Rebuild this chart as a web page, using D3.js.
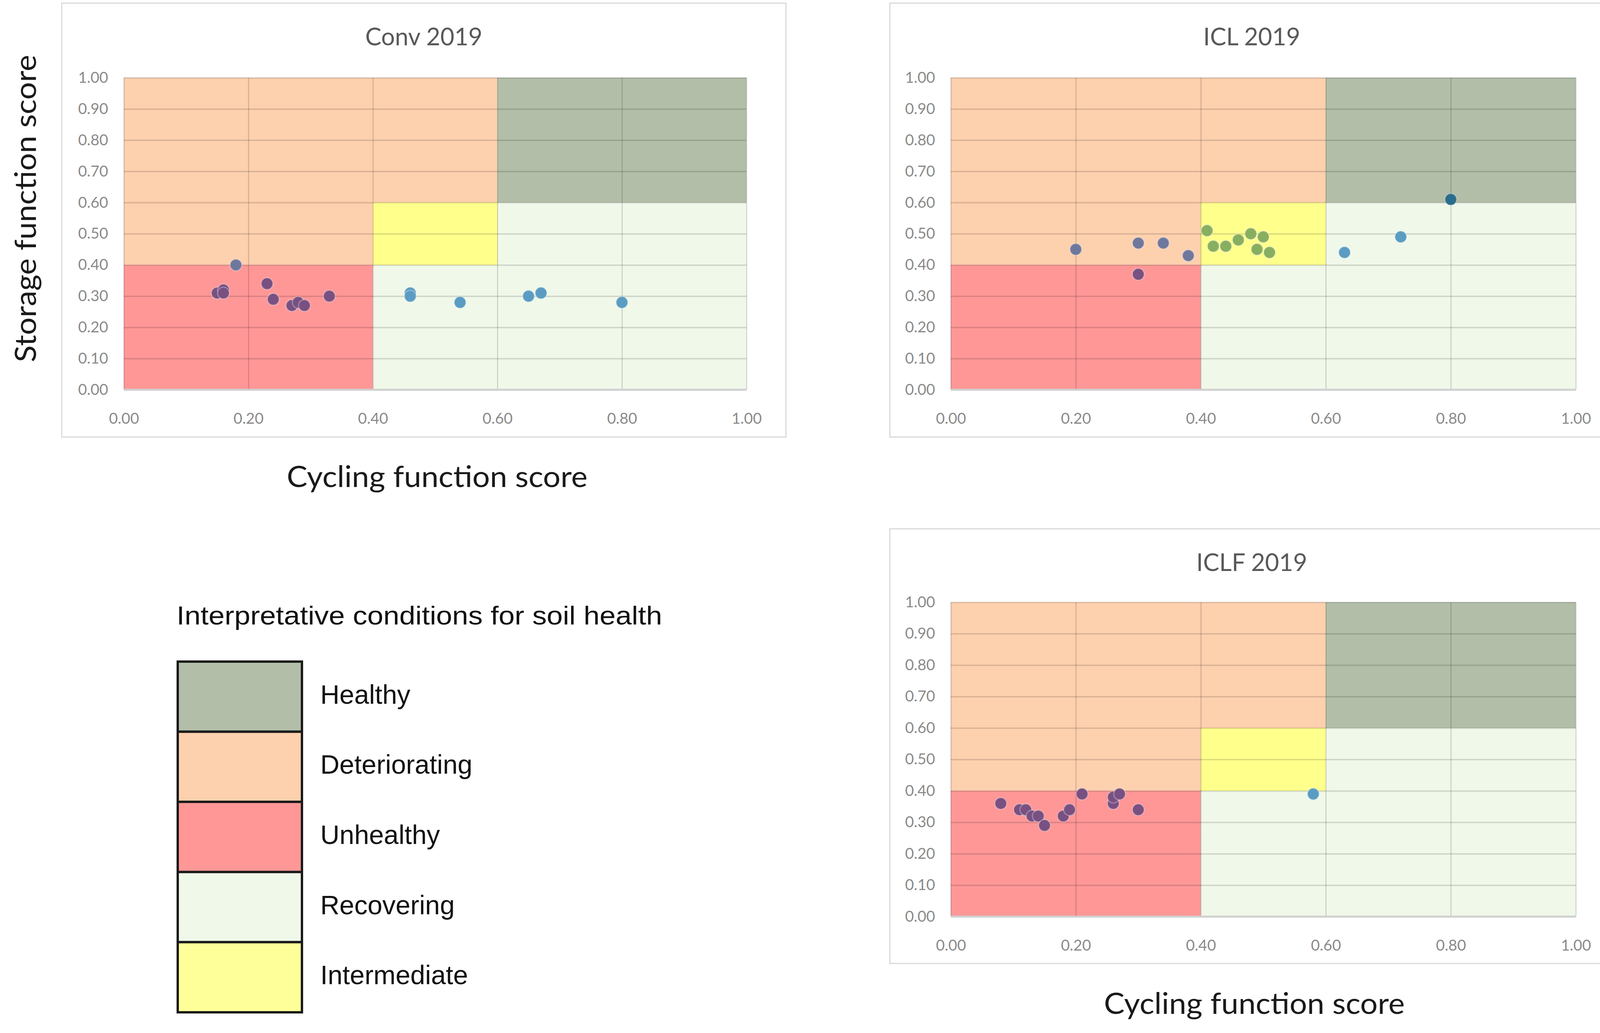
<!DOCTYPE html>
<html>
<head>
<meta charset="utf-8">
<script src="https://cdn.jsdelivr.net/npm/d3@7"></script>
<style>
  body { margin: 0; background: #fff; }
  svg { display: block; }
</style>
</head>
<body>
<svg id="chart" width="4139" height="2645"></svg>
<script>
// ---- data ----
const panelTitles = ["Conv 2019", "ICL 2019", "ICLF 2019"];

// [cycling score, storage score, condition class]
const convPoints = [
  [0.15, 0.31, "Unhealthy"], [0.16, 0.32, "Unhealthy"], [0.16, 0.31, "Unhealthy"],
  [0.23, 0.34, "Unhealthy"], [0.24, 0.29, "Unhealthy"], [0.27, 0.27, "Unhealthy"],
  [0.28, 0.28, "Unhealthy"], [0.29, 0.27, "Unhealthy"], [0.33, 0.30, "Unhealthy"],
  [0.18, 0.40, "Deteriorating"],
  [0.46, 0.31, "Recovering"], [0.46, 0.30, "Recovering"], [0.54, 0.28, "Recovering"],
  [0.65, 0.30, "Recovering"], [0.67, 0.31, "Recovering"], [0.80, 0.28, "Recovering"]
];
const iclPoints = [
  [0.20, 0.45, "Deteriorating"], [0.30, 0.47, "Deteriorating"], [0.34, 0.47, "Deteriorating"],
  [0.38, 0.43, "Deteriorating"],
  [0.30, 0.37, "Unhealthy"],
  [0.41, 0.51, "Intermediate"], [0.42, 0.46, "Intermediate"], [0.44, 0.46, "Intermediate"],
  [0.46, 0.48, "Intermediate"], [0.48, 0.50, "Intermediate"], [0.50, 0.49, "Intermediate"],
  [0.49, 0.45, "Intermediate"], [0.51, 0.44, "Intermediate"],
  [0.63, 0.44, "Recovering"], [0.72, 0.49, "Recovering"],
  [0.80, 0.61, "Healthy"]
];
const iclfPoints = [
  [0.08, 0.36, "Unhealthy"], [0.11, 0.34, "Unhealthy"], [0.12, 0.34, "Unhealthy"],
  [0.13, 0.32, "Unhealthy"], [0.14, 0.32, "Unhealthy"], [0.15, 0.29, "Unhealthy"],
  [0.18, 0.32, "Unhealthy"], [0.19, 0.34, "Unhealthy"], [0.21, 0.39, "Unhealthy"],
  [0.26, 0.36, "Unhealthy"], [0.26, 0.38, "Unhealthy"], [0.27, 0.39, "Unhealthy"],
  [0.30, 0.34, "Unhealthy"],
  [0.58, 0.39, "Recovering"]
];

// zone limits: [name, x0, x1, y0, y1] in draw order
const zones = [
  ["Recovering", 0.4, 1.0, 0.0, 0.6],
  ["Deteriorating", 0.0, 0.6, 0.4, 1.0],
  ["Intermediate", 0.4, 0.6, 0.4, 0.6],
  ["Unhealthy", 0.0, 0.4, 0.0, 0.4],
  ["Healthy", 0.6, 1.0, 0.6, 1.0]
];
const legendItems = ["Healthy", "Deteriorating", "Unhealthy", "Recovering", "Intermediate"];

const xTicks = [0, 0.2, 0.4, 0.6, 0.8, 1.0];
const yTicks = [0, 0.1, 0.2, 0.3, 0.4, 0.5, 0.6, 0.7, 0.8, 0.9, 1.0];

// ---- styles ----
const zoneFill = {
  Healthy: "#b2bea8", Deteriorating: "#fdd0ae", Unhealthy: "#ff9797",
  Recovering: "#f0f8ea", Intermediate: "#ffff8c"
};
const legendFill = Object.assign({}, zoneFill, {Intermediate: "#ffff99"});
const dotFill = {
  Unhealthy: "#785081", Deteriorating: "#6f789c", Intermediate: "#88ae60",
  Recovering: "#5b9cc2", Healthy: "#2a6d8b"
};

const layout = [
  {box: [158, 8, 1854, 1111], plot: [317, 199, 1594, 799]},
  {box: [2278, 8, 1853, 1111], plot: [2434, 199, 1600, 799]},
  {box: [2278, 1354, 1853, 1113], plot: [2434, 1542, 1600, 805]}
];
const panelData = [convPoints, iclPoints, iclfPoints];

const svg = d3.select("#chart");
const tickFont = "Lato, 'Open Sans', sans-serif";

const drawPanel = (i) => {
  const [bx, by, bw, bh] = layout[i].box;
  const [px, py, pw, ph] = layout[i].plot;
  const g = svg.append("g").attr("class", "panel");

  g.append("rect")
    .attr("x", bx).attr("y", by).attr("width", bw).attr("height", bh)
    .attr("fill", "#fff").attr("stroke", "#d9d9d9").attr("stroke-width", 3);

  g.append("text")
    .attr("x", bx + bw / 2).attr("y", by + 84)
    .attr("text-anchor", "middle").attr("dominant-baseline", "central")
    .attr("font-family", tickFont).attr("font-size", 62).attr("fill", "#595959")
    .text(panelTitles[i]);

  const x = d3.scaleLinear().domain([0, 1]).range([px, px + pw]);
  const y = d3.scaleLinear().domain([0, 1]).range([py + ph, py]);

  g.append("g").selectAll("rect")
    .data(zones)
    .join("rect")
      .attr("x", d => x(d[1]))
      .attr("y", d => y(d[4]))
      .attr("width", d => x(d[2]) - x(d[1]))
      .attr("height", d => y(d[3]) - y(d[4]))
      .attr("fill", d => zoneFill[d[0]]);

  // horizontal gridlines
  const hGrid = g.append("g")
    .attr("transform", `translate(${px},0)`)
    .call(d3.axisLeft(y).tickValues(yTicks).tickSize(-pw).tickFormat(""));
  hGrid.select(".domain").remove();
  hGrid.selectAll("line").attr("stroke", "#000").attr("stroke-opacity", 0.14).attr("stroke-width", 3.5);

  // vertical gridlines
  const vGrid = g.append("g")
    .attr("transform", `translate(0,${py + ph})`)
    .call(d3.axisBottom(x).tickValues(xTicks).tickSize(-ph).tickFormat(""));
  vGrid.select(".domain").remove();
  vGrid.selectAll("line").attr("stroke", "#000").attr("stroke-opacity", 0.17).attr("stroke-width", 2.5);

  // baseline
  g.append("line")
    .attr("x1", x(0)).attr("x2", x(1)).attr("y1", y(0)).attr("y2", y(0))
    .attr("stroke", "#d0d0d0").attr("stroke-width", 5);

  // tick labels
  const xAxis = g.append("g")
    .attr("transform", `translate(0,${py + ph})`)
    .call(d3.axisBottom(x).tickValues(xTicks).tickSize(0).tickFormat(d3.format(".2f")));
  xAxis.select(".domain").remove();
  xAxis.selectAll("text")
    .attr("y", 73).attr("dy", "0.35em")
    .attr("font-family", tickFont).attr("font-size", 39).attr("fill", "#8a8a8a");

  const yAxis = g.append("g")
    .attr("transform", `translate(${px},0)`)
    .call(d3.axisLeft(y).tickValues(yTicks).tickSize(0).tickPadding(40).tickFormat(d3.format(".2f")));
  yAxis.select(".domain").remove();
  yAxis.selectAll("text")
    .attr("font-family", tickFont).attr("font-size", 39).attr("fill", "#8a8a8a");

  // points
  g.append("g").selectAll("circle")
    .data(panelData[i])
    .join("circle")
      .attr("cx", d => x(d[0]))
      .attr("cy", d => y(d[1]))
      .attr("r", 15)
      .attr("fill", d => dotFill[d[2]])
      .attr("stroke", "#fff").attr("stroke-opacity", 0.3).attr("stroke-width", 3);
};

[0, 1, 2].forEach(drawPanel);

// axis titles
const axisTitleFont = "Lato, 'Open Sans', sans-serif";
svg.append("text")
  .attr("transform", "translate(62,534) rotate(-90)")
  .attr("text-anchor", "middle").attr("dominant-baseline", "central")
  .attr("font-family", axisTitleFont).attr("font-size", 76).attr("fill", "#1a1a1a")
  .attr("textLength", 787).attr("lengthAdjust", "spacingAndGlyphs")
  .text("Storage function score");

[[1119, 1217], [3211, 2566]].forEach(([cx, cy]) => {
  svg.append("text")
    .attr("x", cx).attr("y", cy)
    .attr("text-anchor", "middle").attr("dominant-baseline", "central")
    .attr("font-family", axisTitleFont).attr("font-size", 76).attr("fill", "#1a1a1a")
    .attr("textLength", 770).attr("lengthAdjust", "spacingAndGlyphs")
    .text("Cycling function score");
});

// legend
const legend = svg.append("g").attr("class", "legend");
legend.append("text")
  .attr("x", 452).attr("y", 1576)
  .attr("dominant-baseline", "central")
  .attr("font-family", "'Liberation Sans', Arial, sans-serif").attr("font-size", 66).attr("fill", "#111")
  .attr("textLength", 1243).attr("lengthAdjust", "spacingAndGlyphs")
  .text("Interpretative conditions for soil health");

const legendY = d3.scaleBand().domain(legendItems).range([1694, 2592]).padding(0);

const rows = legend.selectAll("g.row")
  .data(legendItems)
  .join("g").attr("class", "row");

rows.append("rect")
  .attr("x", 455).attr("y", d => legendY(d))
  .attr("width", 318).attr("height", legendY.bandwidth())
  .attr("fill", d => legendFill[d])
  .attr("stroke", "#1a1a1a").attr("stroke-width", 6);

rows.append("text")
  .attr("x", 820).attr("y", d => legendY(d) + legendY.bandwidth() / 2 - 6)
  .attr("dominant-baseline", "central")
  .attr("font-family", "'Liberation Sans', Arial, sans-serif").attr("font-size", 68).attr("fill", "#111")
  .text(d => d);
</script>
</body>
</html>
